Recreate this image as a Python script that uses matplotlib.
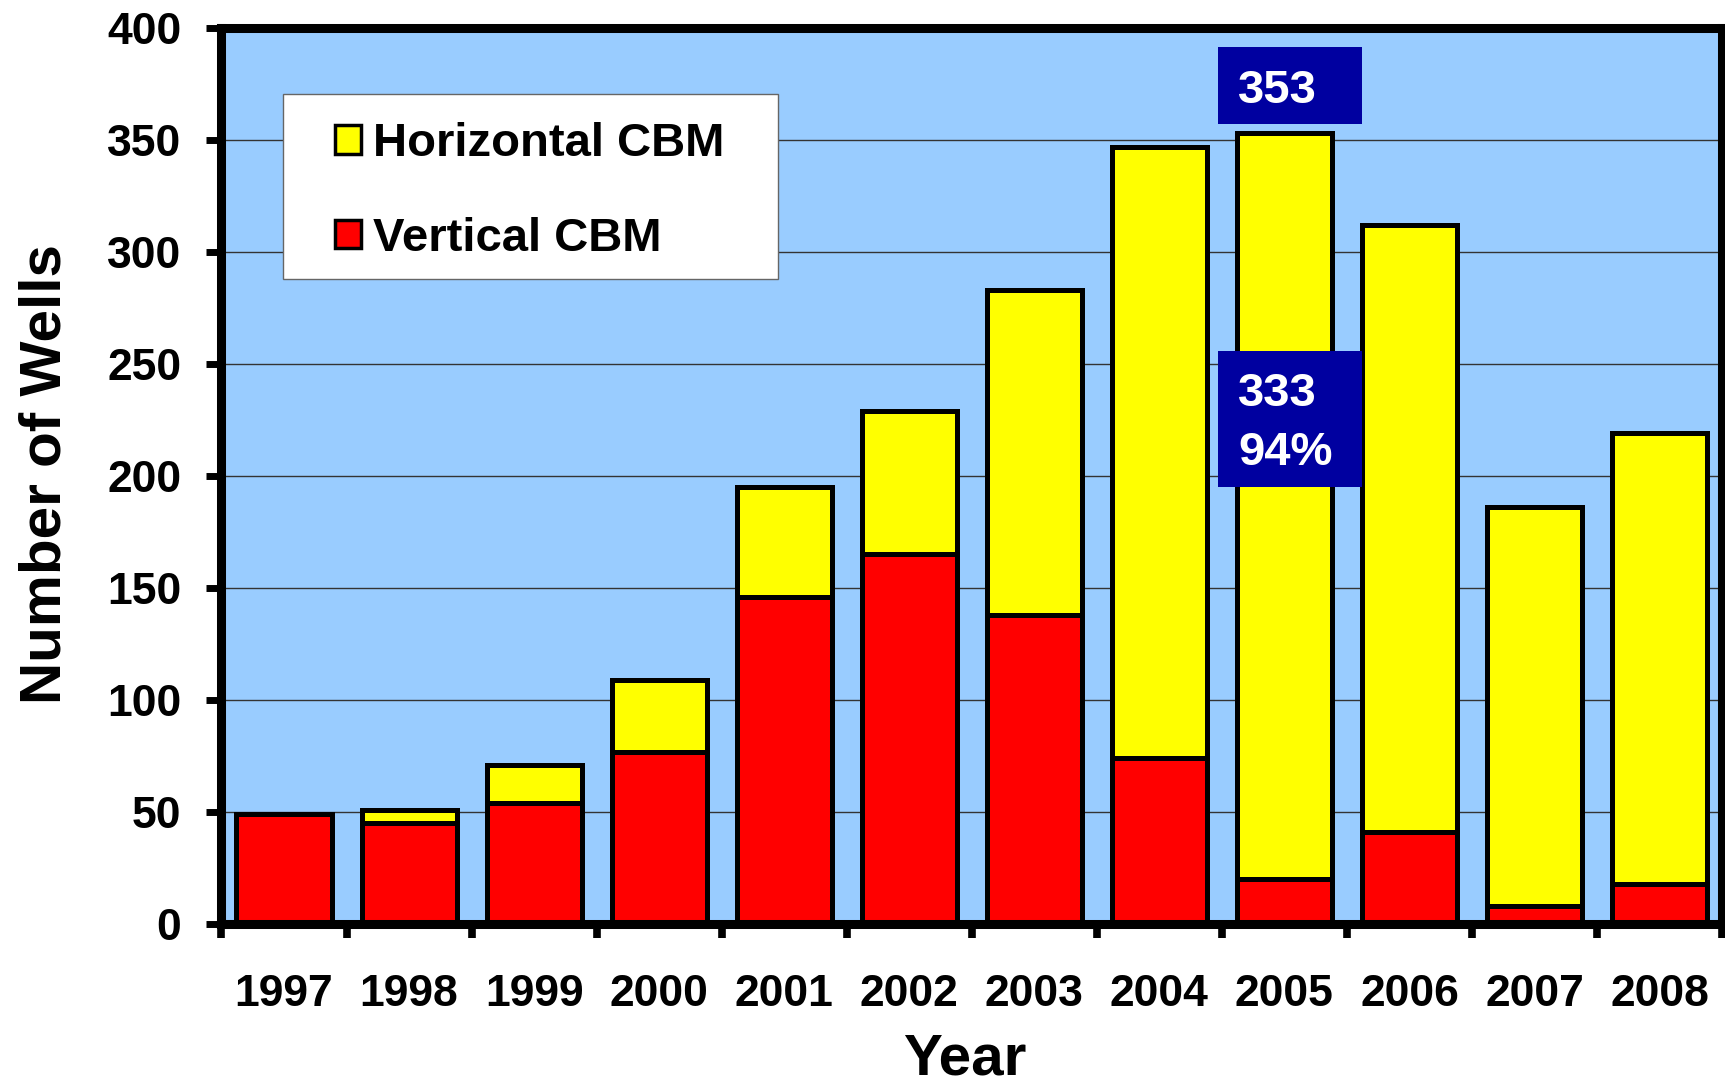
import matplotlib
matplotlib.use("Agg")
import matplotlib.pyplot as plt
from matplotlib.patches import Patch, Rectangle
import numpy as np

plt.rcParams['font.family'] = ['Liberation Sans', 'DejaVu Sans']
plt.rcParams['font.weight'] = 'bold'

# Annual coalbed-methane wells drilled
years = ['1997', '1998', '1999', '2000', '2001', '2002',
         '2003', '2004', '2005', '2006', '2007', '2008']
vertical = [49, 45, 54, 77, 146, 165, 138, 74, 20, 41, 8, 18]
horizontal = [0, 6, 17, 32, 49, 64, 145, 273, 333, 271, 178, 201]
y_ticks = [0, 50, 100, 150, 200, 250, 300, 350, 400]

RED = '#FF0000'
YELLOW = '#FFFF00'
SKY = '#99CCFF'
NAVY = '#0000A0'

fig = plt.figure(figsize=(17.25, 10.84), dpi=100)
ax = fig.add_axes([0.1284, 0.1476, 0.8699, 0.8266])
ax.set_facecolor(SKY)

x = np.arange(len(years))
vert = np.array(vertical)
horiz = np.array(horizontal)
total = vert + horiz

ax.bar(x, vert, width=0.76, color=RED, edgecolor='black', linewidth=3.6, zorder=2)
ax.bar(x, horiz, bottom=vert, width=0.76, color=YELLOW, edgecolor='black',
       linewidth=3.6, zorder=2)

ax.set_xlim(-0.5, len(years) - 0.5)
ax.set_ylim(0, 400)

# Grid lines behind the bars
ax.set_axisbelow(True)
ax.yaxis.grid(True, color='#333333', linewidth=1.0)

for s in ax.spines.values():
    s.set_linewidth(6.5)
    s.set_color('black')

ax.set_yticks(y_ticks)
ax.set_yticklabels([str(v) for v in y_ticks])
ax.tick_params(axis='y', which='major', direction='out', length=10.5, width=5,
               pad=18.5, labelsize=32)

ax.set_xticks(x)
ax.set_xticklabels(years)
ax.set_xticks(np.arange(-0.5, len(years)), minor=True)
ax.tick_params(axis='x', which='major', length=0, pad=36, labelsize=32)
ax.tick_params(axis='x', which='minor', direction='out', length=10, width=5.5)

for lbl in ax.get_xticklabels() + ax.get_yticklabels():
    lbl.set_fontweight('bold')

ax.set_xlabel('Year', fontsize=42, fontweight='bold', va='baseline')
ax.xaxis.set_label_coords(0.4955, -0.168)
ax.set_ylabel('Number of Wells', fontsize=42, fontweight='bold', va='baseline')
ax.yaxis.set_label_coords(-0.107, 0.502)

# Legend with a white frame behind it
frame = Rectangle((0.041, 0.720), 0.330, 0.2065, transform=ax.transAxes,
                  facecolor='white', edgecolor='#666666', linewidth=1.0, zorder=4)
ax.add_patch(frame)
handles = [Patch(facecolor=YELLOW, edgecolor='black', linewidth=2.5),
           Patch(facecolor=RED, edgecolor='black', linewidth=2.5)]
leg = ax.legend(handles, ['Horizontal CBM', 'Vertical CBM'],
                loc='upper left', bbox_to_anchor=(0.0756, 0.895),
                frameon=False, borderpad=0, borderaxespad=0,
                handlelength=0.55, handleheight=0.55, handletextpad=0.25,
                labelspacing=1.07, prop={'size': 34, 'weight': 'bold'})
leg.set_zorder(5)

# Callouts for the 2005 peak
peak = 8
ax.add_patch(Rectangle((peak - 0.53, 357), 1.15, 34.5, facecolor=NAVY,
                       edgecolor='none', zorder=6, clip_on=False))
ax.text(peak - 0.371, 366.5, f'{total[peak]}', color='white', fontsize=34,
        fontweight='bold', ha='left', va='baseline', zorder=7)

share = round(100 * horiz[peak] / total[peak])
ax.add_patch(Rectangle((peak - 0.53, 195), 1.15, 60.8, facecolor=NAVY,
                       edgecolor='none', zorder=6))
ax.text(peak - 0.371, 231.2, f'{horiz[peak]}', color='white', fontsize=34,
        fontweight='bold', ha='left', va='baseline', zorder=7)
ax.text(peak - 0.371, 204.9, f'{share}%', color='white', fontsize=34,
        fontweight='bold', ha='left', va='baseline', zorder=7)

fig.savefig('out.png', dpi=100, facecolor='white')
